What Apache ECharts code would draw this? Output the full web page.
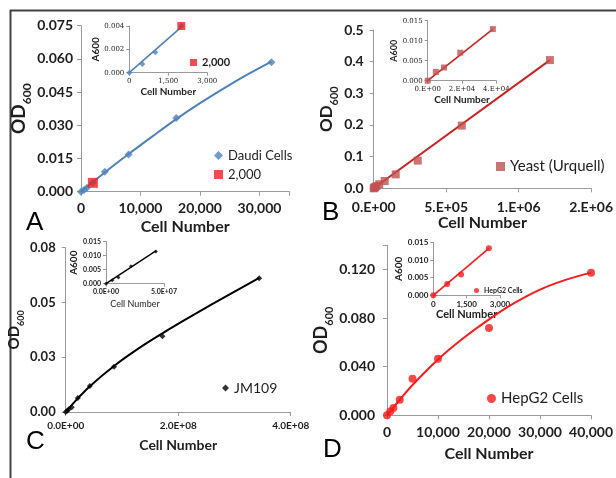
<!DOCTYPE html>
<html><head><meta charset="utf-8">
<script src="https://cdn.jsdelivr.net/npm/echarts@6/dist/echarts.min.js"></script>
<style>html,body{margin:0;padding:0;background:#fff}#c{width:616px;height:478px}</style>
</head><body><div id="c"></div>
<script>
// ---------- DATA ----------
// Panel A (Daudi cells)
const aCells = [0, 500, 1000, 2000, 4000, 8000, 16000, 32000];
const aOD = [0, 0.00075, 0.00175, 0.0040, 0.0090, 0.0168, 0.0333, 0.0585];
const aRedCells = [2000];
const aRedOD = [0.0040];
const aTrendCells = [0, 4000, 8000, 12000, 16000, 20000, 24000, 28000, 32000];
const aTrendOD = [0, 0.0087, 0.0170, 0.0250, 0.0328, 0.0400, 0.0467, 0.0530, 0.0588];
const aInCells = [0, 500, 1000, 2000];
const aInOD = [0, 0.00075, 0.00175, 0.0040];
const aInTrendCells = [0, 2000];
const aInTrendOD = [0, 0.0039];
// Panel B (Yeast)
const bCells = [0, 4750, 9500, 19000, 38000, 76000, 152000, 304000, 608000, 1216000];
const bOD = [0, 0.0022, 0.0033, 0.0070, 0.0129, 0.023, 0.044, 0.0874, 0.198, 0.405];
const bTrendCells = [0, 1216000];
const bTrendOD = [0, 0.405];
const bInCells = [0, 4750, 9500, 19000, 38000];
const bInOD = [0, 0.0022, 0.0033, 0.0070, 0.0129];
const bInTrendCells = [0, 38000];
const bInTrendOD = [0, 0.0129];
// Panel C (JM109)
const cCells = [0, 2.7e6, 5.4e6, 1.07e7, 2.15e7, 4.3e7, 8.6e7, 1.72e8, 3.44e8];
const cOD = [0, 0.0006, 0.0012, 0.0022, 0.0064, 0.0119, 0.0206, 0.0346, 0.0610];
const cTrendCells = [0, 2.15e7, 4.3e7, 8.6e7, 1.29e8, 1.72e8, 2.15e8, 2.58e8, 3.01e8, 3.44e8];
const cTrendOD = [0, 0.0062, 0.0118, 0.0210, 0.0289, 0.0359, 0.0425, 0.0489, 0.0551, 0.0612];
const cInCells = [0, 5.4e6, 1.07e7, 2.15e7, 4.3e7];
const cInOD = [0, 0.0012, 0.0022, 0.0062, 0.0115];
const cInTrendCells = [0, 4.3e7];
const cInTrendOD = [0, 0.0117];
// Panel D (HepG2)
const dCells = [0, 625, 1250, 2500, 5000, 10000, 20000, 40000];
const dOD = [0, 0.0032, 0.0060, 0.0129, 0.0301, 0.0466, 0.0718, 0.1173];
const dTrendCells = [0, 2500, 5000, 10000, 15000, 20000, 25000, 30000, 35000, 40000];
const dTrendOD = [0, 0.0128, 0.0250, 0.0460, 0.0636, 0.0790, 0.0925, 0.1035, 0.1115, 0.1175];
const dInCells = [0, 625, 1250, 2500];
const dInOD = [0, 0.0032, 0.0059, 0.0133];
const dInTrendCells = [0, 2500];
const dInTrendOD = [0, 0.0133];
// Tick labels
const aXTicks = ['0', '10,000', '20,000', '30,000'];
const aYTicks = ['0.000', '0.015', '0.030', '0.045', '0.060', '0.075'];
const aiXTicks = ['0', '1,500', '3,000'];
const aiYTicks = ['0.000', '0.002', '0.004'];
const bXTicks = ['0.E+00', '5.E+05', '1.E+06', '2.E+06'];
const bYTicks = ['0.0', '0.1', '0.2', '0.3', '0.4', '0.5'];
const biXTicks = ['0.E+00', '2.E+04', '4.E+04'];
const biYTicks = ['0.000', '0.005', '0.010', '0.015'];
const cXTicks = ['0.0E+00', '2.0E+08', '4.0E+08'];
const cYTicks = ['0.00', '0.03', '0.05', '0.08'];
const ciXTicks = ['0.0E+00', '5.0E+07'];
const ciYTicks = ['0.000', '0.005', '0.010', '0.015'];
const dXTicks = ['0', '10,000', '20,000', '30,000', '40,000'];
const dYTicks = ['0.000', '0.040', '0.080', '0.120'];
const diXTicks = ['0', '1,500', '3,000'];
const diYTicks = ['0.000', '0.005', '0.010', '0.015'];

// ---------- BUILD ----------
const FONT = 'Lato';
const TXT = '#1e1e1e';
const AX = '#9a9a9a';
const zip = (xs, ys) => xs.map((x, i) => [x, ys[i]]);
const fmt = arr => (v, i) => (arr[i] !== undefined ? arr[i] : '');

function mkX(gi, max, interval, ticks, o) {
  return {
    gridIndex: gi, type: 'value', min: 0, max: max, interval: interval,
    splitLine: { show: false },
    axisLine: { lineStyle: { color: AX, width: 1 } },
    axisTick: { show: true, length: o.tick, lineStyle: { color: AX } },
    axisLabel: { formatter: fmt(ticks), fontFamily: o.lf || FONT, fontSize: o.ls, fontWeight: o.lw || 'bold', color: TXT, margin: o.lm, showMaxLabel: true },
    name: 'Cell Number', nameLocation: 'middle', nameGap: o.ng,
    nameTextStyle: { fontFamily: FONT, fontSize: o.ns, fontWeight: o.nw || 'bold', color: TXT }
  };
}
function mkY(gi, max, interval, ticks, o) {
  return {
    gridIndex: gi, type: 'value', min: 0, max: max, interval: interval,
    splitLine: { show: false },
    axisLine: { show: true, lineStyle: { color: AX, width: 1 } },
    axisTick: { show: true, length: o.tick, lineStyle: { color: AX } },
    axisLabel: { formatter: fmt(ticks), fontFamily: o.lf || FONT, fontSize: o.ls, fontWeight: o.lw || 'bold', color: TXT, margin: o.lm },
    name: o.name, nameLocation: 'middle', nameGap: o.ng, nameRotate: 90,
    nameTextStyle: o.rich ? { rich: o.rich, color: TXT } : { fontFamily: FONT, fontSize: o.ns, fontWeight: 'bold', color: TXT }
  };
}
const odRich = (s) => ({
  a: { fontFamily: FONT, fontSize: s, fontWeight: 'bold', color: TXT, verticalAlign: 'bottom', padding: [0, 0, Math.round(s * 0.28), 0] },
  b: { fontFamily: FONT, fontSize: Math.round(s * 0.62), fontWeight: 'bold', color: TXT, verticalAlign: 'bottom' }
});

const grids = [
  { left: 81, top: 25.7, width: 208.3, height: 166 },     // 0 A main
  { left: 129.3, top: 26, width: 78, height: 46.7 },      // 1 A inset
  { left: 373.7, top: 30, width: 222, height: 158.3 },    // 2 B main
  { left: 427.7, top: 20.7, width: 68.6, height: 60 },    // 3 B inset
  { left: 65.7, top: 247.7, width: 225, height: 164.3 },  // 4 C main
  { left: 106, top: 241.7, width: 58, height: 42 },       // 5 C inset
  { left: 387, top: 245.3, width: 210.4, height: 170 },   // 6 D main
  { left: 433.3, top: 242.3, width: 66.7, height: 53 }    // 7 D inset
];

const xAxes = [
  mkX(0, 35000, 10000, aXTicks, { tick: 4, ls: 14, lm: 10, ng: 27, ns: 16 }),
  mkX(1, 3000, 1500, aiXTicks, { tick: 3, ls: 7, lm: 5, ng: 14, ns: 10, lf: 'DejaVu Serif', lw: 'normal' }),
  mkX(2, 1500000, 500000, bXTicks, { tick: 4, ls: 14, lm: 12, ng: 20, ns: 16 }),
  mkX(3, 40000, 20000, biXTicks, { tick: 3, ls: 7, lm: 5, ng: 14, ns: 10, lf: 'DejaVu Serif', lw: 'normal' }),
  mkX(4, 4e8, 2e8, cXTicks, { tick: 4, ls: 10, lm: 9, ng: 26, ns: 14 }),
  mkX(5, 5e7, 5e7, ciXTicks, { tick: 3, ls: 7, lm: 5, ng: 16, ns: 9, nw: 'normal' }),
  mkX(6, 40000, 10000, dXTicks, { tick: 4, ls: 14, lm: 10, ng: 31, ns: 16 }),
  mkX(7, 3000, 1500, diXTicks, { tick: 3, ls: 8, lm: 5, ng: 14, ns: 11 })
];
const yAxes = [
  mkY(0, 0.075, 0.015, aYTicks, { tick: 4, ls: 14, lm: 8, ng: 46, name: '{a|OD}{b|600}', rich: odRich(19) }),
  mkY(1, 0.004, 0.002, aiYTicks, { tick: 3, ls: 7, lm: 5, ng: 27, name: 'A600', ns: 10, lf: 'DejaVu Serif', lw: 'normal' }),
  mkY(2, 0.5, 0.1, bYTicks, { tick: 4, ls: 14, lm: 10, ng: 33, name: '{a|OD}{b|600}', rich: odRich(17) }),
  mkY(3, 0.015, 0.005, biYTicks, { tick: 3, ls: 7, lm: 5, ng: 25, name: 'A600', ns: 9, lf: 'DejaVu Serif', lw: 'normal' }),
  mkY(4, 0.075, 0.025, cYTicks, { tick: 4, ls: 13, lm: 10, ng: 37, name: '{a|OD}{b|600}', rich: odRich(15) }),
  mkY(5, 0.015, 0.005, ciYTicks, { tick: 3, ls: 7, lm: 5, ng: 24, name: 'A600', ns: 10 }),
  mkY(6, 0.14, 0.04, dYTicks, { tick: 4, ls: 14, lm: 12, ng: 47, name: '{a|OD}{b|600}', rich: odRich(18) }),
  mkY(7, 0.015, 0.005, diYTicks, { tick: 3, ls: 8, lm: 5, ng: 29, name: 'A600', ns: 10 })
];

const BLUE = '#4F81BD', RED = '#F01E23', BRED = '#C0504D', BLINE = '#CC2222', DRED = '#F21C1C';
function sc(name, gi, xs, ys, sym, size, color) {
  return { name, type: 'scatter', xAxisIndex: gi, yAxisIndex: gi, data: zip(xs, ys), symbol: sym, symbolSize: size, itemStyle: { color }, z: 5 };
}
function ln(name, gi, xs, ys, color, w, smooth) {
  return { name, type: 'line', xAxisIndex: gi, yAxisIndex: gi, data: zip(xs, ys), showSymbol: false, symbol: 'none', smooth: smooth ? 0.35 : false, lineStyle: { color, width: w }, z: 3 };
}

const series = [
  ln('aTrend', 0, aTrendCells, aTrendOD, BLUE, 2, true),
  sc('Daudi Cells', 0, aCells, aOD, 'diamond', 8, BLUE),
  sc('2,000', 0, aRedCells, aRedOD, 'rect', 10, RED),
  ln('aInTrend', 1, aInTrendCells, aInTrendOD, BLUE, 1.6, false),
  sc('Daudi inset', 1, aInCells, aInOD, 'diamond', 6, BLUE),
  sc('2,000', 1, aRedCells, aRedOD, 'rect', 8, RED),

  ln('bTrend', 2, bTrendCells, bTrendOD, BLINE, 2, false),
  sc('Yeast (Urquell)', 2, bCells, bOD, 'rect', 8, BRED),
  ln('bInTrend', 3, bInTrendCells, bInTrendOD, BLINE, 1.6, false),
  sc('Yeast inset', 3, bInCells, bInOD, 'rect', 6, BRED),

  ln('cTrend', 4, cTrendCells, cTrendOD, '#000', 2, true),
  sc('JM109', 4, cCells, cOD, 'diamond', 6, '#000'),
  ln('cInTrend', 5, cInTrendCells, cInTrendOD, '#000', 1.4, false),
  sc('JM109 inset', 5, cInCells, cInOD, 'diamond', 4, '#000'),

  ln('dTrend', 6, dTrendCells, dTrendOD, '#FF1A1A', 2, true),
  sc('HepG2 Cells', 6, dCells, dOD, 'circle', 8, DRED),
  ln('dInTrend', 7, dInTrendCells, dInTrendOD, '#FF1A1A', 1.6, false),
  sc('HepG2 Cells', 7, dInCells, dInOD, 'circle', 6, DRED)
];

const legends = [
  { data: [{ name: 'Daudi Cells', icon: 'diamond' }, { name: '2,000', icon: 'rect' }], orient: 'vertical', left: 209, top: 144, itemWidth: 9, itemHeight: 9, itemGap: 6, textStyle: { fontFamily: FONT, fontSize: 13, color: TXT } },
  { data: [{ name: '2,000', icon: 'rect' }], left: 185, top: 52, itemWidth: 7, itemHeight: 7, textStyle: { fontFamily: FONT, fontSize: 11, fontWeight: 'bold', color: TXT }, selectedMode: false },
  { data: [{ name: 'Yeast (Urquell)', icon: 'rect' }], left: 491, top: 154, itemWidth: 9, itemHeight: 9, textStyle: { fontFamily: FONT, fontSize: 15, color: TXT } },
  { data: [{ name: 'JM109', icon: 'diamond' }], left: 217, top: 376, itemWidth: 7, itemHeight: 7, textStyle: { fontFamily: FONT, fontSize: 14, color: TXT } },
  { data: [{ name: 'HepG2 Cells', icon: 'circle' }], left: 482, top: 386, itemWidth: 9, itemHeight: 9, textStyle: { fontFamily: FONT, fontSize: 15, color: TXT } },
  { data: [{ name: 'HepG2 Cells', icon: 'circle' }], left: 469, top: 282, itemWidth: 5, itemHeight: 5, textStyle: { fontFamily: FONT, fontSize: 7, fontWeight: 'bold', color: TXT }, selectedMode: false }
];

const letters = [
  { text: 'A', left: 26, top: 210 },
  { text: 'B', left: 322, top: 200 },
  { text: 'C', left: 26, top: 429 },
  { text: 'D', left: 323, top: 437 }
];
const titles = letters.map(l => ({ text: l.text, left: l.left, top: l.top, padding: 0, textStyle: { fontFamily: 'Liberation Sans', fontSize: 26, fontWeight: 'normal', color: '#000' } }));

const chart = echarts.init(document.getElementById('c'), null, { renderer: 'canvas' });
chart.setOption({
  animation: false,
  backgroundColor: '#fff',
  title: titles,
  grid: grids,
  xAxis: xAxes,
  yAxis: yAxes,
  legend: legends,
  series: series,
  graphic: [
    { type: 'line', shape: { x1: 10, y1: 10.5, x2: 616, y2: 10.5 }, style: { stroke: '#444', lineWidth: 2 } },
    { type: 'line', shape: { x1: 10.5, y1: 10, x2: 10.5, y2: 478 }, style: { stroke: '#444', lineWidth: 2 } }
  ]
});
</script></body></html>
